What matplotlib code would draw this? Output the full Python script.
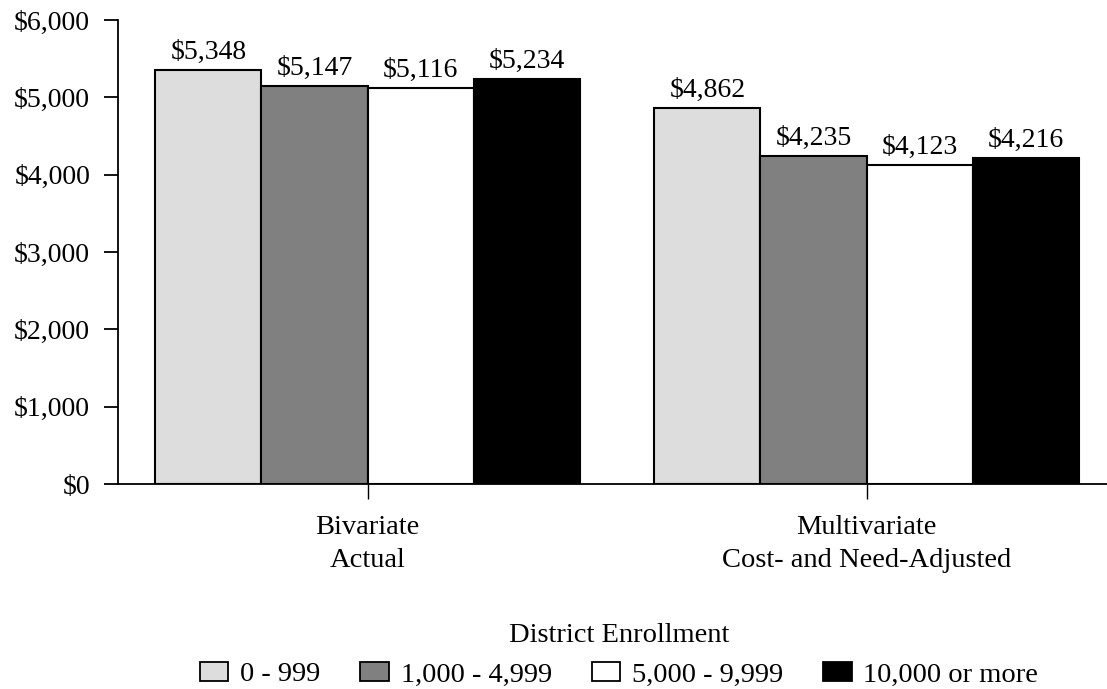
import matplotlib
matplotlib.use('Agg')
import matplotlib.pyplot as plt
import numpy as np
from matplotlib.ticker import FuncFormatter

# ── Data ────────────────────────────────────────────────────────────────────
CATEGORIES = ["Bivariate\nActual", "Multivariate\nCost- and Need-Adjusted"]
SERIES = ["0 - 999", "1,000 - 4,999", "5,000 - 9,999", "10,000 or more"]
VALUES = [
    [5348, 4862],
    [5147, 4235],
    [5116, 4123],
    [5234, 4216],
]
COLORS = ["#DDDDDD", "#808080", "#FFFFFF", "#000000"]

plt.rcParams['font.family'] = ['Liberation Serif', 'DejaVu Serif']

fig = plt.figure(figsize=(11.07, 6.89), dpi=100)
W, H = 1107, 689
ax = fig.add_axes([118 / W, 1 - 484 / H, 998 / W, 464 / H])

x = np.arange(len(CATEGORIES))
bw = 0.2125
for i, (name, vals, col) in enumerate(zip(SERIES, VALUES, COLORS)):
    bars = ax.bar(x + (i - 1.5) * bw, vals, bw, color=col, edgecolor='black',
                  linewidth=1.5, label=name, zorder=2)
    ax.bar_label(bars, labels=[f"${v:,}" for v in vals], padding=4,
                 fontsize=20)

ax.set_xlim(-0.5, 1.5)
ax.set_ylim(0, 6000)
ax.set_yticks(range(0, 6001, 1000))
ax.yaxis.set_major_formatter(FuncFormatter(lambda v, p: f"${int(v):,}"))
ax.set_xticks(x)
ax.set_xticklabels(CATEGORIES, fontsize=20.5, linespacing=1.45)

for s in ['top', 'right']:
    ax.spines[s].set_visible(False)
for s in ['left', 'bottom']:
    ax.spines[s].set_linewidth(1.3)
ax.tick_params(axis='y', length=10, width=1.3, labelsize=20, pad=10)
ax.tick_params(axis='x', length=11, width=1.0, pad=11)

leg = fig.legend(loc='center', bbox_to_anchor=(619 / W, 1 - 655 / H),
                 ncol=4, frameon=False, fontsize=20.5,
                 title="District Enrollment", title_fontsize=20.5,
                 handlelength=1.0, handleheight=0.66, handletextpad=0.42,
                 columnspacing=1.4, borderpad=0, labelspacing=0.5)
for h in leg.legend_handles:
    h.set_linewidth(1.3)

fig.savefig("out.png", dpi=100, facecolor='white')
